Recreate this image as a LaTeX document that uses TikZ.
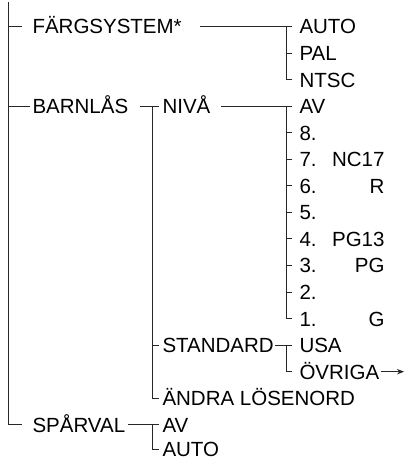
\documentclass[tikz,border=0pt]{standalone}
\usepackage{fontspec}
\setmainfont{Liberation Sans}
\usetikzlibrary{arrows.meta}
\begin{document}
\begin{tikzpicture}[x=1pt,y=-1pt,line width=1pt,
  lbl/.style={anchor=base west,inner sep=0pt,font=\fontsize{20.5}{24}\selectfont},
  rlbl/.style={anchor=base east,inner sep=0pt,font=\fontsize{20.5}{24}\selectfont},
  conn/.style={draw=black!85,line width=1pt}]
\useasboundingbox (0,0) rectangle (407,461);
\def\bs{7.4}
% rows
\def\rA{26.5}\def\rB{53.1}\def\rC{79.6}\def\rD{106.2}\def\rE{132.7}\def\rF{159.3}
\def\rG{185.8}\def\rH{212.4}\def\rI{238.9}\def\rJ{265.5}\def\rK{292}\def\rL{318.6}
\def\rM{345.1}\def\rN{371.7}\def\rO{398.2}\def\rP{424.8}\def\rQ{449}
% level 1
\node[lbl] (farg) at (32,\rA+\bs) {FÄRGSYSTEM*};
\node[lbl] (barn) at (32,\rD+\bs) {BARNLÅS};
\node[lbl] (spar) at (32,\rP+\bs) {SPÅRVAL};
% FÄRGSYSTEM children
\node[lbl] (auto1) at (299,\rA+\bs) {AUTO};
\node[lbl] (pal) at (299,\rB+\bs) {PAL};
\node[lbl] (ntsc) at (299,\rC+\bs) {NTSC};
% BARNLÅS children
\node[lbl] (niva) at (162,\rD+\bs) {NIVÅ};
\node[lbl] (std) at (162,\rM+\bs) {STANDARD};
\node[lbl] (andra) at (162,\rO+\bs) {ÄNDRA LÖSENORD};
% NIVÅ children
\node[lbl] (av1) at (299,\rD+\bs) {AV};
\node[lbl] (l8) at (299,\rE+\bs) {8.};
\node[lbl] (l7) at (299,\rF+\bs) {7.};
\node[lbl] (l6) at (299,\rG+\bs) {6.};
\node[lbl] (l5) at (299,\rH+\bs) {5.};
\node[lbl] (l4) at (299,\rI+\bs) {4.};
\node[lbl] (l3) at (299,\rJ+\bs) {3.};
\node[lbl] (l2) at (299,\rK+\bs) {2.};
\node[lbl] (l1) at (299,\rL+\bs) {1.};
\node[rlbl] (nc17) at (385,\rF+\bs) {NC17};
\node[rlbl] (rr) at (385,\rG+\bs) {R};
\node[rlbl] (pg13) at (385,\rI+\bs) {PG13};
\node[rlbl] (pg) at (385,\rJ+\bs) {PG};
\node[rlbl] (gg) at (385,\rL+\bs) {G};
% STANDARD children
\node[lbl] (usa) at (299,\rM+\bs) {USA};
\node[lbl] (ovr) at (299,\rN+\bs) {ÖVRIGA};
% SPÅRVAL children
\node[lbl] (av2) at (162,\rP+\bs) {AV};
\node[lbl] (auto2) at (162,\rQ+\bs) {AUTO};
% coordinates
\coordinate (top) at (8,2);
\coordinate (tA) at (8,\rA);
\coordinate (tD) at (8,\rD);
\coordinate (tP) at (8,\rP);
% trunk
\draw[conn] (top) -- (tP) -- (22,\rP);
\draw[conn] (tA) -- (22,\rA);
\draw[conn] (tD) -- (30,\rD);
% FÄRGSYSTEM branch
\draw[conn] (200,\rA) -- (292,\rA);
\draw[conn] (286,\rA) -- (286,\rC) -- (292,\rC);
\draw[conn] (286,\rB) -- (292,\rB);
% BARNLÅS branch
\draw[conn] (140,\rD) -- (159,\rD);
\draw[conn] (152,\rD) -- (152,\rO) -- (159,\rO);
\draw[conn] (152,\rM) -- (159,\rM);
% NIVÅ branch
\draw[conn] (221,\rD) -- (292,\rD);
\draw[conn] (286,\rD) -- (286,\rL) -- (292,\rL);
\foreach \r in {\rE,\rF,\rG,\rH,\rI,\rJ,\rK}{\draw[conn] (286,\r) -- (292,\r);}
% STANDARD branch
\draw[conn] (275,\rM) -- (292,\rM);
\draw[conn] (286,\rM) -- (286,\rN) -- (292,\rN);
% ÖVRIGA arrow
\coordinate (arrEnd) at (404,\rN);
\draw[conn,-{Stealth[length=7pt,width=5.5pt]}] (ovr.east |- 0,\rN) ++(1,0) -- (arrEnd);
% SPÅRVAL branch
\draw[conn] (128,\rP) -- (159,\rP);
\draw[conn] (152,\rP) -- (152,\rQ) -- (159,\rQ);
\end{tikzpicture}
\end{document}
